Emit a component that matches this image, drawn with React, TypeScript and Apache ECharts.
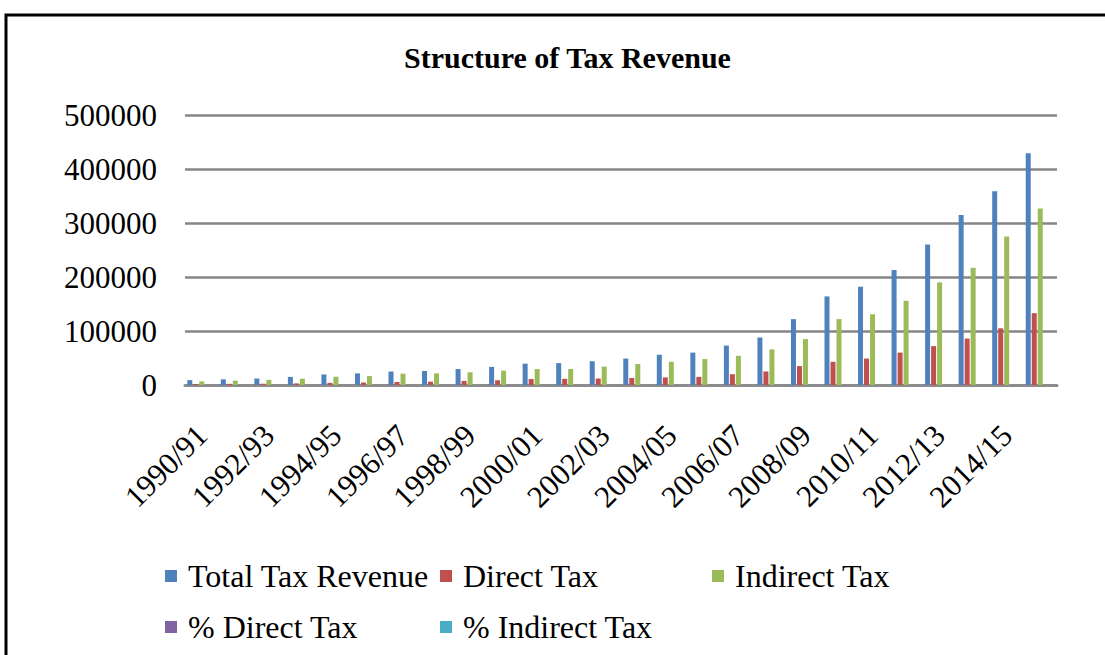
import React, { useEffect, useRef } from "react";
import * as echarts from "echarts";

const categories = [
  "1990/91", "1991/92", "1992/93", "1993/94", "1994/95", "1995/96", "1996/97",
  "1997/98", "1998/99", "1999/00", "2000/01", "2001/02", "2002/03", "2003/04",
  "2004/05", "2005/06", "2006/07", "2007/08", "2008/09", "2009/10", "2010/11",
  "2011/12", "2012/13", "2013/14", "2014/15", "2015/16",
];

const totalTaxRevenue = [
  9000, 10500, 12000, 15000, 19500, 21500, 25000, 26000, 29500, 33500, 39500,
  40500, 44000, 49000, 56000, 60000, 73000, 88000, 122000, 164000, 182000,
  213000, 260000, 315000, 359000, 429000,
];

const directTax = [
  1800, 2100, 2400, 3000, 4000, 4600, 5500, 6200, 7600, 8800, 11000, 11500,
  12000, 13000, 14000, 15000, 20000, 25000, 35000, 43000, 49000, 60000, 72000,
  86000, 105000, 133000,
];

const indirectTax = [
  6700, 8000, 9400, 11600, 15300, 16500, 21000, 21500, 23500, 26500, 29500,
  29600, 34000, 39000, 43000, 48000, 54000, 66000, 85000, 122000, 131000,
  156000, 190000, 217000, 275000, 327000,
];

const pctDirectTax = [
  21, 21, 20, 21, 21, 22, 21, 22, 24, 25, 27, 28, 26, 25, 25, 24, 27, 27, 29,
  26, 27, 28, 27, 28, 28, 29,
];

const pctIndirectTax = [
  79, 79, 80, 79, 79, 78, 79, 78, 76, 75, 73, 72, 74, 75, 75, 76, 73, 73, 71,
  74, 73, 72, 73, 72, 72, 71,
];

const yTicks = [0, 100000, 200000, 300000, 400000, 500000];

const seriesNames = [
  "Total Tax Revenue",
  "Direct Tax",
  "Indirect Tax",
  "% Direct Tax",
  "% Indirect Tax",
];
const seriesData = [totalTaxRevenue, directTax, indirectTax, pctDirectTax, pctIndirectTax];
const colors = ["#4F81BD", "#C0504D", "#9BBB59", "#8064A2", "#4BACC6"];

const FONT = "'Liberation Serif', 'Times New Roman', serif";

export default function App() {
  const ref = useRef<HTMLDivElement>(null);

  useEffect(() => {
    if (!ref.current) return;
    const chart = echarts.init(ref.current, null, { renderer: "svg" });

    const legendPos = [
      { left: 165, top: 560 },
      { left: 440, top: 560 },
      { left: 712, top: 560 },
      { left: 165, top: 611 },
      { left: 440, top: 611 },
    ];

    chart.setOption({
      animation: false,
      backgroundColor: "#ffffff",
      color: colors,
      title: {
        text: "Structure of Tax Revenue",
        left: 399,
        top: 37,
        textStyle: {
          fontFamily: FONT,
          fontWeight: "bold",
          fontSize: 30,
          color: "#000",
        },
      },
      graphic: [
        {
          type: "rect",
          shape: { x: 6, y: 15, width: 1110, height: 660 },
          style: { fill: "none", stroke: "#000", lineWidth: 3 },
          silent: true,
        },
      ],
      legend: seriesNames.map((n, i) => ({
        data: [n],
        left: legendPos[i].left,
        top: legendPos[i].top,
        icon: "rect",
        itemWidth: 12,
        itemHeight: 12,
        padding: 0,
        textStyle: {
          fontFamily: FONT,
          fontSize: 32,
          color: "#000",
          padding: [0, 0, 0, 6],
        },
      })),
      grid: {
        left: 185,
        right: 48,
        top: 115,
        bottom: 270,
        containLabel: false,
      },
      xAxis: {
        type: "category",
        data: categories,
        axisTick: { show: false },
        axisLine: { show: true, lineStyle: { color: "#8c8c8c", width: 3 } },
        axisLabel: {
          interval: 1,
          rotate: 45,
          margin: 45,
          fontFamily: FONT,
          fontSize: 31,
          color: "#000",
        },
      },
      yAxis: {
        type: "value",
        min: yTicks[0],
        max: yTicks[yTicks.length - 1],
        interval: 100000,
        axisLine: { show: false },
        axisTick: { show: false },
        splitLine: { lineStyle: { color: "#858585", width: 2.5 } },
        axisLabel: {
          margin: 28,
          fontFamily: FONT,
          fontSize: 31,
          color: "#000",
          padding: [7, 0, 0, 0],
          formatter: (v: number) => String(v),
        },
      },
      series: seriesNames.map((n, i) => ({
        name: n,
        type: "bar",
        data: seriesData[i],
        barWidth: 5,
        barGap: "20%",
        itemStyle: { color: colors[i] },
      })),
    });

    return () => chart.dispose();
  }, []);

  return (
    <div
      ref={ref}
      style={{ position: "absolute", left: 0, top: 0, width: 1105, height: 655 }}
    />
  );
}
